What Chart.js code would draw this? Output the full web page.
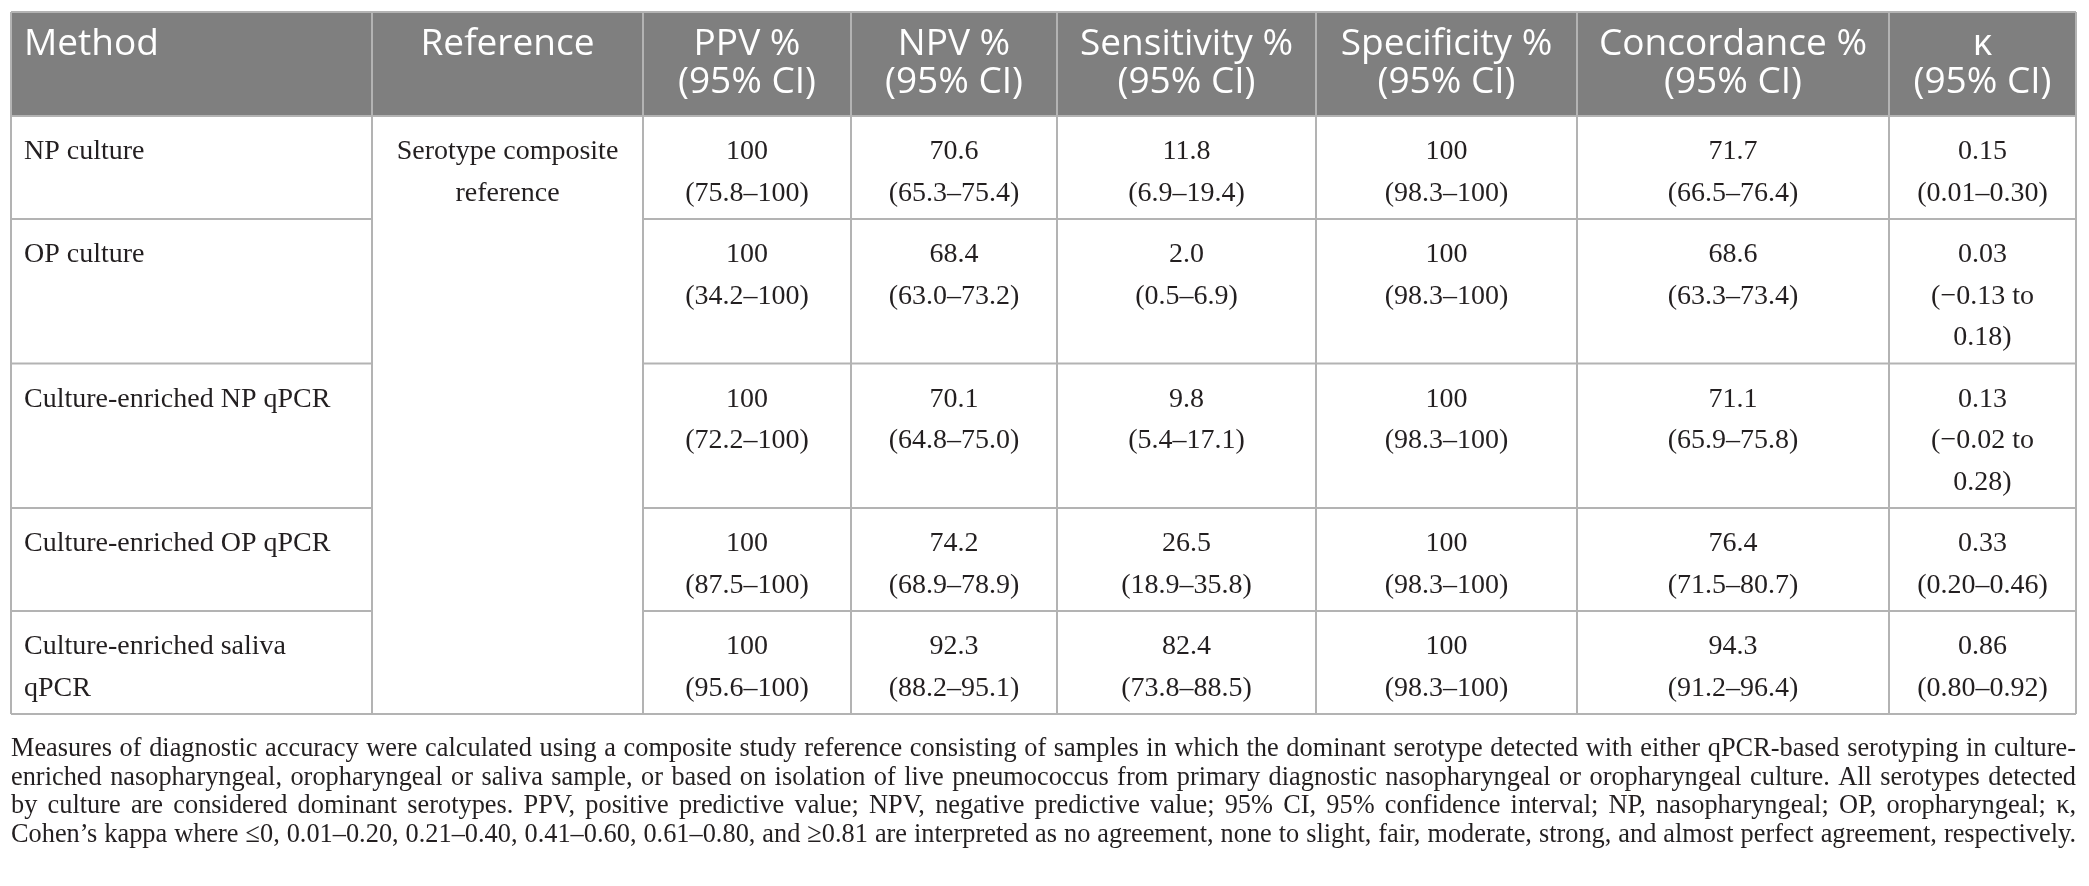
<!DOCTYPE html>
<html>
<head>
<meta charset="utf-8">
<script src="https://cdn.jsdelivr.net/npm/chart.js@4.4.1/dist/chart.umd.min.js"></script>
<style>
  html, body { margin: 0; padding: 0; background: #fff; }
  canvas { display: block; }
</style>
</head>
<body>
<canvas id="table-chart" width="2089" height="886"></canvas>
<script>
// Table content
const headers = [
    ['Method'], ['Reference'],
    ['PPV %', '(95% CI)'], ['NPV %', '(95% CI)'],
    ['Sensitivity %', '(95% CI)'], ['Specificity %', '(95% CI)'],
    ['Concordance %', '(95% CI)'], ['\u03ba', '(95% CI)']
];
const methods = ['NP culture', 'OP culture', 'Culture-enriched NP qPCR',
    'Culture-enriched OP qPCR', 'Culture-enriched saliva qPCR'];
const reference = 'Serotype composite reference';

const ppv = [100, 100, 100, 100, 100];
const ppvCI = [[75.8, 100], [34.2, 100], [72.2, 100], [87.5, 100], [95.6, 100]];
const npv = [70.6, 68.4, 70.1, 74.2, 92.3];
const npvCI = [[65.3, 75.4], [63.0, 73.2], [64.8, 75.0], [68.9, 78.9], [88.2, 95.1]];
const sensitivity = [11.8, 2.0, 9.8, 26.5, 82.4];
const sensitivityCI = [[6.9, 19.4], [0.5, 6.9], [5.4, 17.1], [18.9, 35.8], [73.8, 88.5]];
const specificity = [100, 100, 100, 100, 100];
const specificityCI = [[98.3, 100], [98.3, 100], [98.3, 100], [98.3, 100], [98.3, 100]];
const concordance = [71.7, 68.6, 71.1, 76.4, 94.3];
const concordanceCI = [[66.5, 76.4], [63.3, 73.4], [65.9, 75.8], [71.5, 80.7], [91.2, 96.4]];
const kappa = [0.15, 0.03, 0.13, 0.33, 0.86];
const kappaCI = [[0.01, 0.30], [-0.13, 0.18], [-0.02, 0.28], [0.20, 0.46], [0.80, 0.92]];

const footnoteLines = [
    'Measures of diagnostic accuracy were calculated using a composite study reference consisting of samples in which the dominant serotype detected with either qPCR-based serotyping in culture-',
    'enriched nasopharyngeal, oropharyngeal or saliva sample, or based on isolation of live pneumococcus from primary diagnostic nasopharyngeal or oropharyngeal culture. All serotypes detected',
    'by culture are considered dominant serotypes. PPV, positive predictive value; NPV, negative predictive value; 95% CI, 95% confidence interval; NP, nasopharyngeal; OP, oropharyngeal; \u03ba,',
    'Cohen\u2019s kappa where \u22640, 0.01\u20130.20, 0.21\u20130.40, 0.41\u20130.60, 0.61\u20130.80, and \u22650.81 are interpreted as no agreement, none to slight, fair, moderate, strong, and almost perfect agreement, respectively.'
];

// Layout (page pixels, used as scale values)
const W = 2089, H = 886;
const colEdges = [11, 372, 643, 851, 1057, 1316, 1577, 1889, 2076];
const tableTop = 12;
const headerHeight = 104;
const lineHeight = 41.5;
const rowPadding = 20;
const firstBaseline = 43;
const cellPad = 13;
const headFont = '37px "Open Sans"';
const bodyFont = '28px "Liberation Serif"';
const noteSize = 28;
const noteTop = 756;
const noteLineHeight = 28.7;
const gridColor = '#b3b3b3';

// Formatting
const pct = v => v === 100 ? '100' : v.toFixed(1);
const pctCI = ([a, b]) => '(' + pct(a) + '\u2013' + pct(b) + ')';
const kap = v => (v < 0 ? '\u2212' : '') + Math.abs(v).toFixed(2);
const kapCI = ([a, b]) => a < 0 ? '(' + kap(a) + ' to ' + kap(b) + ')' : '(' + kap(a) + '\u2013' + kap(b) + ')';

const measure = document.createElement('canvas').getContext('2d');
function wrap(text, font, maxWidth) {
    measure.font = font;
    const words = text.split(' ');
    const lines = [];
    let line = '';
    words.forEach(w => {
        const test = line ? line + ' ' + w : w;
        if (line && measure.measureText(test).width > maxWidth) {
            lines.push(line);
            line = w;
        } else {
            line = test;
        }
    });
    if (line) lines.push(line);
    return lines;
}

// Build cells row by row
const columns = [
    [ppv, ppvCI, pct, pctCI], [npv, npvCI, pct, pctCI],
    [sensitivity, sensitivityCI, pct, pctCI], [specificity, specificityCI, pct, pctCI],
    [concordance, concordanceCI, pct, pctCI], [kappa, kappaCI, kap, kapCI]
];
const cells = [];
const rowEdges = [tableTop + headerHeight];
methods.forEach((m, r) => {
    const top = rowEdges[r];
    const rowCells = [];
    rowCells.push({ col: 0, align: 'left', lines: wrap(m, bodyFont, 320) });
    if (r === 0) {
        const w = colEdges[2] - colEdges[1] - 2 * cellPad;
        rowCells.push({ col: 1, align: 'center', lines: wrap(reference, bodyFont, w) });
    }
    columns.forEach(([vals, cis, fv, fci], c) => {
        const w = colEdges[c + 3] - colEdges[c + 2] - 2 * cellPad;
        rowCells.push({ col: c + 2, align: 'center', lines: [fv(vals[r])].concat(wrap(fci(cis[r]), bodyFont, w)) });
    });
    const n = Math.max(...rowCells.map(c => c.lines.length));
    rowEdges.push(top + rowPadding + n * lineHeight);
    rowCells.forEach(c => {
        const left = colEdges[c.col], right = colEdges[c.col + 1];
        c.x = c.align === 'left' ? left + cellPad : (left + right) / 2;
        c.y = top + firstBaseline;
        cells.push(c);
    });
});

const tablePlugin = {
    id: 'tablePlugin',
    afterDatasetsDraw(chart) {
        const { ctx, scales: { x, y } } = chart;
        const px = v => x.getPixelForValue(v);
        const py = v => y.getPixelForValue(v);
        const left = px(colEdges[0]), right = px(colEdges[colEdges.length - 1]);
        const headBottom = py(tableTop + headerHeight);
        const bottom = py(rowEdges[rowEdges.length - 1]);
        ctx.save();

        // header band
        ctx.fillStyle = '#7f7f7f';
        ctx.fillRect(left, py(tableTop), right - left, headBottom - py(tableTop));

        // header text
        ctx.fillStyle = '#ffffff';
        ctx.font = headFont;
        ctx.textBaseline = 'alphabetic';
        headers.forEach((lines, c) => {
            const l = px(colEdges[c]), r = px(colEdges[c + 1]);
            lines.forEach((t, i) => {
                const yy = py(tableTop + 43 + i * 38);
                if (c === 0) {
                    ctx.textAlign = 'left';
                    ctx.fillText(t, l + cellPad, yy);
                } else {
                    ctx.textAlign = 'center';
                    ctx.fillText(t, (l + r) / 2, yy);
                }
            });
        });

        // grid
        ctx.strokeStyle = gridColor;
        ctx.lineWidth = 2;
        ctx.beginPath();
        colEdges.forEach(e => {
            ctx.moveTo(px(e), py(tableTop));
            ctx.lineTo(px(e), bottom);
        });
        ctx.moveTo(left, py(tableTop));
        ctx.lineTo(right, py(tableTop));
        rowEdges.forEach((e, i) => {
            const isInner = i > 0 && i < rowEdges.length - 1;
            // reference column is one merged cell in the body
            ctx.moveTo(left, py(e));
            ctx.lineTo(isInner ? px(colEdges[1]) : right, py(e));
            if (isInner) {
                ctx.moveTo(px(colEdges[2]), py(e));
                ctx.lineTo(right, py(e));
            }
        });
        ctx.stroke();

        // body text, anchored on the dataset points
        const meta = chart.getDatasetMeta(0);
        ctx.fillStyle = '#231f20';
        ctx.font = bodyFont;
        meta.data.forEach((pt, i) => {
            const c = cells[i];
            ctx.textAlign = c.align;
            c.lines.forEach((t, k) => {
                ctx.fillText(t, pt.x, pt.y + (py(lineHeight) - py(0)) * k);
            });
        });

        // footnote, justified
        ctx.font = noteSize + 'px "Liberation Serif"';
        ctx.textAlign = 'left';
        const avail = right - left;
        const maxNatural = Math.max(...footnoteLines.map(t => ctx.measureText(t).width));
        const squeeze = Math.min(1, (avail - 10) / maxNatural);
        footnoteLines.forEach((t, i) => {
            const words = t.split(' ');
            const widths = words.map(w => ctx.measureText(w).width * squeeze);
            const total = widths.reduce((a, b) => a + b, 0);
            const gap = (avail - total) / (words.length - 1);
            let cx = left;
            const yy = py(noteTop + i * noteLineHeight);
            words.forEach((w, k) => {
                ctx.save();
                ctx.translate(cx, yy);
                ctx.scale(squeeze, 1);
                ctx.fillText(w, 0, 0);
                ctx.restore();
                cx += widths[k] + gap;
            });
        });
        ctx.restore();
    }
};

new Chart(document.getElementById('table-chart'), {
    type: 'scatter',
    data: {
        datasets: [{
            label: 'cells',
            data: cells.map(c => ({ x: c.x, y: c.y })),
            pointRadius: 0,
            pointHoverRadius: 0
        }]
    },
    options: {
        responsive: false,
        animation: false,
        devicePixelRatio: 1,
        layout: { padding: 0 },
        events: [],
        scales: {
            x: { type: 'linear', min: 0, max: W, display: false },
            y: { type: 'linear', min: 0, max: H, reverse: true, display: false }
        },
        plugins: {
            legend: { display: false },
            tooltip: { enabled: false }
        }
    },
    plugins: [tablePlugin]
});
</script>
</body>
</html>
